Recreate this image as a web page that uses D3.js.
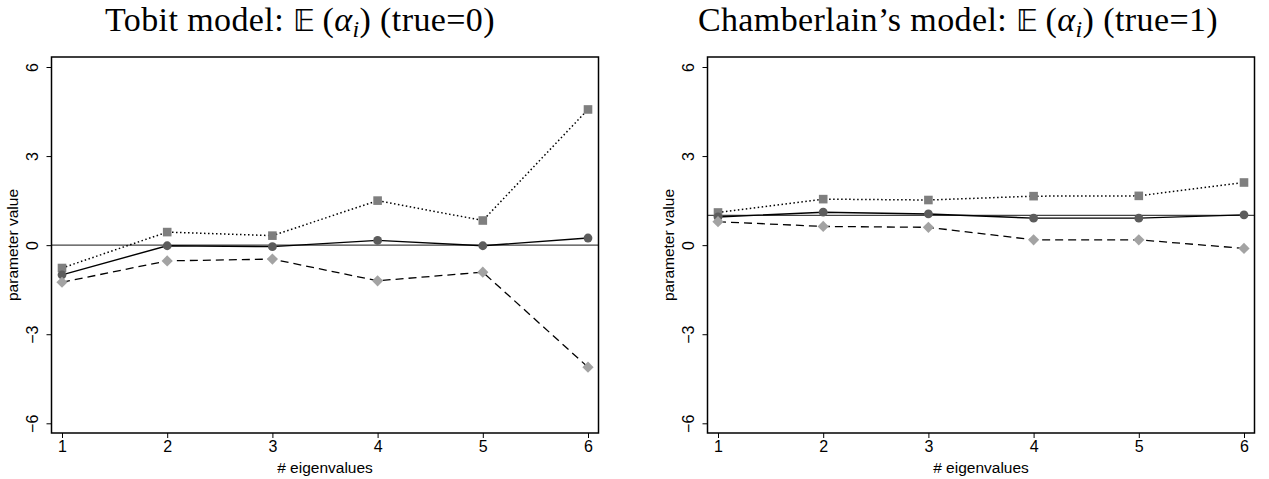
<!DOCTYPE html>
<html>
<head>
<meta charset="utf-8">
<script src="https://cdn.jsdelivr.net/npm/d3@7"></script>
<style>
  body { margin: 0; background: #fff; }
  svg { display: block; }
</style>
</head>
<body>
<svg id="canvas"></svg>
<script>
const width = 1269;
const height = 479;

// x categories and y ticks
const eigenvalues = [1, 2, 3, 4, 5, 6];
const yTicks = [-6, -3, 0, 3, 6];

// Tobit model, E(alpha_i), true = 0
const tobitSquares  = [-0.77, 0.44, 0.32, 1.50, 0.83, 4.57];
const tobitCircles  = [-1.00, -0.02, -0.05, 0.16, -0.02, 0.24];
const tobitDiamonds = [-1.25, -0.53, -0.47, -1.20, -0.91, -4.11];

// Chamberlain's model, E(alpha_i), true = 1
const chamSquares  = [1.10, 1.55, 1.52, 1.65, 1.66, 2.11];
const chamCircles  = [0.95, 1.11, 1.05, 0.91, 0.91, 1.02];
const chamDiamonds = [0.79, 0.63, 0.60, 0.18, 0.18, -0.11];

const svg = d3.select("#canvas")
              .attr("width", width)
              .attr("height", height);

const panels = [
  { title: "Tobit model: ", truth: "(true=0)", trueValue: 0,
    left: 51.5, right: 598.5, titleX: 300,
    squares: tobitSquares, circles: tobitCircles, diamonds: tobitDiamonds },
  { title: "Chamberlain\u2019s model: ", truth: "(true=1)", trueValue: 1,
    left: 707.5, right: 1254.5, titleX: 958,
    squares: chamSquares, circles: chamCircles, diamonds: chamDiamonds }
];

const plotTop = 57, plotBottom = 433;
const sans = "'Liberation Sans', Arial, sans-serif";

panels.forEach(p => {
  const g = svg.append("g");

  const x = d3.scaleLinear()
              .domain([1, 6])
              .range([p.left + 10.5, p.right - 10.5]);
  const y = d3.scaleLinear()
              .domain([-6, 6])
              .range([423.3, 67]);

  // title
  const t = g.append("text")
             .attr("x", p.titleX)
             .attr("y", 31)
             .attr("text-anchor", "middle")
             .style("font-family", "'Liberation Serif', 'DejaVu Serif', serif")
             .style("font-size", "34px")
             .style("letter-spacing", "0.4px")
             .attr("fill", "#000");
  t.append("tspan").text(p.title);
  t.append("tspan").style("font-family", "'DejaVu Sans', sans-serif").style("font-size", "30px").text("\uD835\uDD3C");
  t.append("tspan").text("\u2009(");
  t.append("tspan").style("font-style", "italic").text("\u03B1");
  t.append("tspan").style("font-style", "italic").style("font-size", "24px").attr("dy", 6).text("i");
  t.append("tspan").attr("dy", -6).text(") " + p.truth);

  // axes
  const xAxis = d3.axisBottom(x).tickValues(eigenvalues).tickSize(5).tickPadding(3).tickFormat(d3.format("d"));
  g.append("g")
   .attr("transform", `translate(0, ${plotBottom})`)
   .call(xAxis)
   .call(a => a.select(".domain").remove())
   .call(a => a.selectAll("text").style("font-family", sans).style("font-size", "16px").attr("fill", "#000"));

  const yAxis = d3.axisLeft(y).tickValues(yTicks).tickSize(5).tickFormat(d => d < 0 ? "\u2212" + Math.abs(d) : d);
  g.append("g")
   .attr("transform", `translate(${p.left}, 0)`)
   .call(yAxis)
   .call(a => a.select(".domain").remove())
   .call(a => a.selectAll("text")
      .attr("x", 0).attr("dy", 0)
      .attr("text-anchor", "middle")
      .attr("transform", "translate(-14, 0) rotate(-90)")
      .style("font-family", sans)
      .style("font-size", "16px")
      .attr("fill", "#000"));

  g.append("text")
   .attr("transform", `translate(${p.left - 34}, ${(plotTop + plotBottom) / 2}) rotate(-90)`)
   .attr("text-anchor", "middle")
   .style("font-family", sans)
   .style("font-size", "15.5px")
   .text("parameter value");

  g.append("text")
   .attr("x", (p.left + p.right) / 2)
   .attr("y", 473)
   .attr("text-anchor", "middle")
   .style("font-family", sans)
   .style("font-size", "15.5px")
   .text("# eigenvalues");

  // reference line at the true value
  g.append("line")
   .attr("x1", p.left).attr("x2", p.right)
   .attr("y1", y(p.trueValue)).attr("y2", y(p.trueValue))
   .attr("stroke", "#444")
   .attr("stroke-width", 1.3);

  const line = d3.line().x((d, i) => x(eigenvalues[i])).y(d => y(d));

  g.append("path").datum(p.squares).attr("d", line)
   .attr("fill", "none").attr("stroke", "#000").attr("stroke-width", 1.5).attr("stroke-dasharray", "1.5,2.5");
  g.append("path").datum(p.diamonds).attr("d", line)
   .attr("fill", "none").attr("stroke", "#000").attr("stroke-width", 1.3).attr("stroke-dasharray", "8,5");
  g.append("path").datum(p.circles).attr("d", line)
   .attr("fill", "none").attr("stroke", "#000").attr("stroke-width", 1.4);

  g.selectAll(".sq").data(p.squares).enter().append("rect")
   .attr("x", (d, i) => x(eigenvalues[i]) - 4.3)
   .attr("y", d => y(d) - 4.3)
   .attr("width", 8.6).attr("height", 8.6)
   .attr("fill", "#7f7f7f");

  g.selectAll(".ci").data(p.circles).enter().append("circle")
   .attr("cx", (d, i) => x(eigenvalues[i]))
   .attr("cy", d => y(d))
   .attr("r", 4.4)
   .attr("fill", "#5c5c5c");

  const diamond = d3.symbol().type(d3.symbolDiamond2).size(80);
  g.selectAll(".di").data(p.diamonds).enter().append("path")
   .attr("d", diamond)
   .attr("transform", (d, i) => `translate(${x(eigenvalues[i])}, ${y(d)})`)
   .attr("fill", "#a3a3a3");

  // frame
  g.append("rect")
   .attr("x", p.left).attr("y", plotTop)
   .attr("width", p.right - p.left).attr("height", plotBottom - plotTop)
   .attr("fill", "none").attr("stroke", "#000").attr("stroke-width", 1.5);
});
</script>
</body>
</html>
